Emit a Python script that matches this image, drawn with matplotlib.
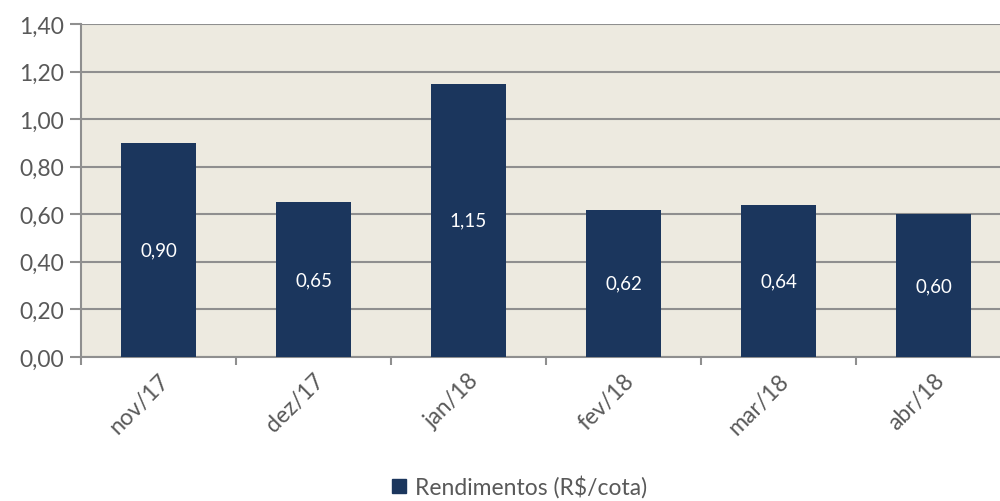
import matplotlib.pyplot as plt
from matplotlib.patches import Patch
import numpy as np

plt.rcParams['font.family'] = ['Lato', 'DejaVu Sans']

#dados
meses = ['nov/17', 'dez/17', 'jan/18', 'fev/18', 'mar/18', 'abr/18']
rendimentos = [0.90, 0.65, 1.15, 0.62, 0.64, 0.60]
rotulos = ['0,90', '0,65', '1,15', '0,62', '0,64', '0,60']
yticks = [0.0, 0.2, 0.4, 0.6, 0.8, 1.0, 1.2, 1.4]

cor_barra = '#1b365d'
cor_fundo = '#edeae0'
cor_texto = '#595959'
cor_grade = '#8f8f8f'

fig = plt.figure(figsize=(10, 5.02), dpi=100)
ax = fig.add_axes([0.081, 0.287, 0.93, 0.663])
ax.set_facecolor(cor_fundo)

x = np.arange(len(meses))
barras = ax.bar(x, rendimentos, width=0.49, color=cor_barra, zorder=3)

#rotulos no meio das barras
for b, r in zip(barras, rotulos):
    ax.text(b.get_x() + b.get_width() / 2, b.get_height() / 2, r,
            ha='center', va='center', color='white', fontsize=13.5, zorder=4)

ax.set_xlim(-0.5, len(meses) - 0.5)
ax.set_ylim(0, 1.4)
ax.set_yticks(yticks)
ax.set_yticklabels([f'{v:.2f}'.replace('.', ',') for v in yticks])
ax.yaxis.grid(True, color=cor_grade, linewidth=1.5, zorder=1)
ax.set_axisbelow(True)

ax.set_xticks(x)
ax.set_xticklabels(meses, rotation=45, ha='right', rotation_mode='anchor')
ax.set_xticks(np.arange(-0.5, len(meses), 1), minor=True)
ax.tick_params(axis='x', which='major', length=0, pad=9, labelsize=16.5, labelcolor=cor_texto)
ax.tick_params(axis='x', which='minor', length=6, width=1.5, color=cor_grade)
ax.tick_params(axis='y', length=8, width=1.5, color=cor_grade, labelsize=16.5,
               labelcolor=cor_texto, pad=4)

for s in ['top', 'right']:
    ax.spines[s].set_visible(False)
for s in ['left', 'bottom']:
    ax.spines[s].set_color(cor_grade)
    ax.spines[s].set_linewidth(1.5)

fig.legend(handles=[Patch(color=cor_barra, label='Rendimentos (R$/cota)')],
           loc='lower center', bbox_to_anchor=(0.52, -0.035), frameon=False,
           fontsize=16.5, handlelength=0.6, handleheight=0.6, handletextpad=0.4,
           labelcolor=cor_texto)

fig.savefig('out.png', dpi=100)
